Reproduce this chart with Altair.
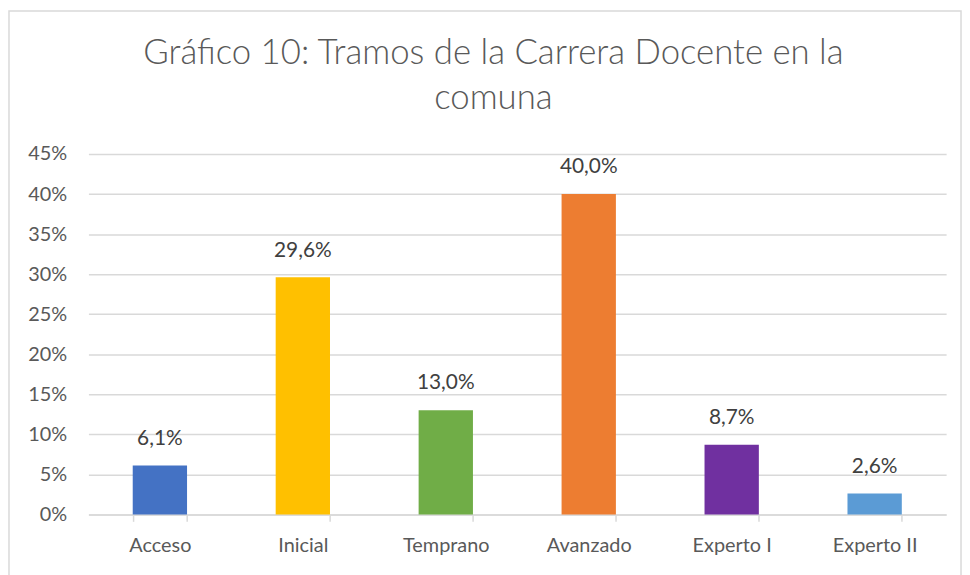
import altair as alt
import pandas as pd

categories = ["Acceso", "Inicial", "Temprano", "Avanzado", "Experto I", "Experto II"]
values = [0.061, 0.296, 0.130, 0.400, 0.087, 0.026]
colors = ["#4472C4", "#FFC000", "#70AD47", "#ED7D31", "#7030A0", "#5B9BD5"]
y_ticks = [0, 0.05, 0.10, 0.15, 0.20, 0.25, 0.30, 0.35, 0.40, 0.45]
title_lines = ["Gráfico 10: Tramos de la Carrera Docente en la", "comuna"]

df = pd.DataFrame({"cat": categories, "val": values})

FONT = "Lato"
W, H = 864, 363

x = alt.X(
    "cat:N",
    sort=categories,
    title=None,
    scale=alt.Scale(paddingInner=0.62, paddingOuter=0.31),
    axis=alt.Axis(
        labelAngle=0,
        labelFontSize=20,
        labelColor="#595959",
        labelFont=FONT,
        tickBand="extent",
        tickSize=7,
        tickColor="#d9d9d9",
        tickWidth=1.5,
        domainColor="#d9d9d9",
        domainWidth=1.5,
        labelPadding=14,
        grid=False,
    ),
)
y = alt.Y(
    "val:Q",
    title=None,
    scale=alt.Scale(domain=[0, 0.45], nice=False),
    axis=alt.Axis(
        values=y_ticks,
        format=".0%",
        labelFontSize=20,
        labelColor="#595959",
        labelFont=FONT,
        domain=False,
        ticks=False,
        tickSize=0,
        labelPadding=22,
        gridColor="#d9d9d9",
        gridWidth=1.5,
    ),
)

base = alt.Chart(df)

bars = base.mark_bar().encode(
    x=x,
    y=y,
    color=alt.Color("cat:N", sort=categories,
                    scale=alt.Scale(domain=categories, range=colors), legend=None),
)

labels = base.transform_calculate(
    lbl="replace(format(datum.val, '.1%'), '.', ',')"
).mark_text(
    fontSize=21, font=FONT, color="#404040", baseline="middle", dy=-27
).encode(
    x=alt.X("cat:N", sort=categories),
    y="val:Q",
    text="lbl:N",
)

border = alt.Chart(pd.DataFrame({"a": [0]})).mark_rect(
    fill=None, stroke="#d9d9d9", strokeWidth=1.5
).encode(
    x=alt.value(-80), x2=alt.value(879), y=alt.value(-144), y2=alt.value(430)
)

chart = alt.layer(border, bars, labels).properties(
    width=W,
    height=H,
    padding={"left": 0, "top": 0, "right": 0, "bottom": 0},
    title=alt.TitleParams(
        text=title_lines,
        fontSize=35,
        font=FONT,
        fontWeight=300,
        color="#595959",
        anchor="middle",
        lineHeight=45,
        offset=-106,
        dx=-24,
    ),
).configure(background="white").configure_view(stroke=None)

chart.save("out.html", embed_options={"renderer": "svg", "actions": False})
